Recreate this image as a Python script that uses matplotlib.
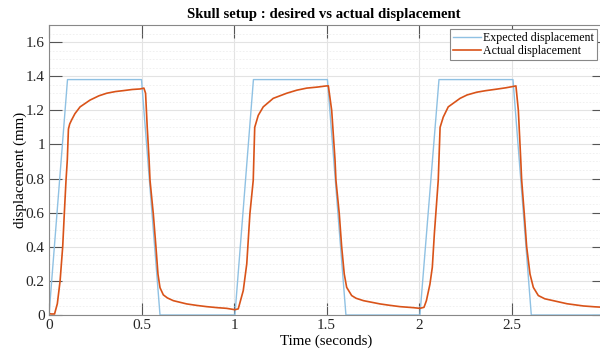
import matplotlib
matplotlib.use("Agg")
import matplotlib.pyplot as plt
from matplotlib.ticker import MultipleLocator, FixedLocator, FormatStrFormatter

# expected (commanded) displacement, trapezoid corners
t_expected = [0.0, 0.1, 0.5, 0.6, 1.005, 1.105, 1.505, 1.605, 2.005, 2.108, 2.508, 2.607, 3.0]
d_expected = [0.0, 1.38, 1.38, 0.0, 0.0, 1.38, 1.38, 0.0, 0.0, 1.38, 1.38, 0.0, 0.0]

t_actual = [0.0, 0.015, 0.03, 0.045, 0.06, 0.074, 0.083, 0.092, 0.099, 0.105, 0.112, 0.123,
            0.14, 0.168, 0.222, 0.27, 0.312, 0.36, 0.40, 0.45, 0.492, 0.513,
            0.522, 0.531, 0.541, 0.546, 0.564, 0.578, 0.589, 0.60, 0.618, 0.64, 0.672,
            0.744, 0.80, 0.852, 0.91, 0.96, 1.005, 1.023,
            1.05, 1.069, 1.086, 1.104, 1.112, 1.131, 1.158, 1.212, 1.285, 1.34, 1.393,
            1.45, 1.50, 1.51,
            1.528, 1.546, 1.551, 1.569, 1.582, 1.596, 1.609, 1.636, 1.66, 1.70,
            1.789, 1.84, 1.897, 1.97, 2.005, 2.027,
            2.04, 2.059, 2.072, 2.083, 2.096, 2.104, 2.114, 2.131, 2.158, 2.222, 2.26,
            2.312, 2.36, 2.42, 2.47, 2.51, 2.524,
            2.537, 2.55, 2.555, 2.569, 2.582, 2.60, 2.618, 2.645, 2.68, 2.726,
            2.80, 2.888, 2.95, 3.0]
d_actual = [0.008, 0.006, 0.006, 0.066, 0.20, 0.40, 0.60, 0.79, 0.91, 1.09, 1.12, 1.145,
            1.18, 1.22, 1.26, 1.285, 1.30, 1.31, 1.315, 1.322, 1.325, 1.33,
            1.30, 1.10, 0.91, 0.79, 0.59, 0.40, 0.24, 0.16, 0.118, 0.10, 0.084,
            0.065, 0.056, 0.049, 0.043, 0.039, 0.031, 0.036,
            0.143, 0.30, 0.594, 0.79, 1.10, 1.17, 1.22, 1.27, 1.30, 1.318, 1.33,
            1.336, 1.343, 1.343,
            1.20, 0.91, 0.79, 0.594, 0.40, 0.24, 0.162, 0.114, 0.098, 0.084,
            0.065, 0.057, 0.049, 0.043, 0.039, 0.045,
            0.084, 0.18, 0.28, 0.476, 0.67, 0.79, 1.10, 1.16, 1.22, 1.27, 1.29,
            1.306, 1.315, 1.324, 1.332, 1.34, 1.343,
            1.20, 0.91, 0.79, 0.594, 0.40, 0.24, 0.162, 0.114, 0.095, 0.084,
            0.066, 0.053, 0.048, 0.045]

x_ticks = [0, 0.5, 1, 1.5, 2, 2.5]

plt.rcParams['font.family'] = ['Liberation Serif', 'DejaVu Serif']

fig = plt.figure(figsize=(6, 3.54), dpi=100)
ax = fig.add_axes([49 / 600, 39 / 354, 555 / 600, 290 / 354])

ax.plot(t_expected, d_expected, color='#8fc1e3', lw=1.0, label='Expected displacement')
ax.plot(t_actual, d_actual, color='#d95319', lw=1.2, label='Actual displacement')

ax.set_xlim(0, 3)
ax.set_ylim(0, 1.7)
ax.xaxis.set_major_locator(FixedLocator(x_ticks))
ax.yaxis.set_major_locator(MultipleLocator(0.2))
ax.yaxis.set_minor_locator(MultipleLocator(0.05))
ax.xaxis.set_major_formatter(FormatStrFormatter('%g'))
ax.yaxis.set_major_formatter(FormatStrFormatter('%g'))

ax.grid(True, which='major', color='#e3e3e3', lw=0.8)
ax.grid(True, which='minor', axis='y', color='#eeeeee', lw=0.6, ls=(0, (2, 2)))
ax.set_axisbelow(True)

ax.tick_params(which='major', direction='in', length=9, width=0.8, color='#555555',
               top=True, right=True, labelsize=11, labelcolor='#262626', pad=3)
ax.tick_params(which='minor', length=0, top=False, right=False)
for s in ax.spines.values():
    s.set_color('#888888')
    s.set_linewidth(0.8)

ax.set_xlabel('Time (seconds)', fontsize=10.8, labelpad=2)
ax.set_ylabel('displacement (mm)', fontsize=10.8, labelpad=-0.5)
fig.text(0.54, 0.96, 'Skull setup : desired vs actual displacement', ha='center', va='center',
         fontsize=10.6, fontweight='bold')

leg = ax.legend(loc='upper right', bbox_to_anchor=(0.995, 0.918), bbox_transform=fig.transFigure,
                fontsize=8.6, frameon=True, fancybox=False, framealpha=1, edgecolor='#888888',
                handlelength=2.4, handletextpad=0.15, borderpad=0.25, labelspacing=0.12,
                borderaxespad=0)
leg.get_frame().set_linewidth(0.8)

fig.savefig('out.png', dpi=100)
